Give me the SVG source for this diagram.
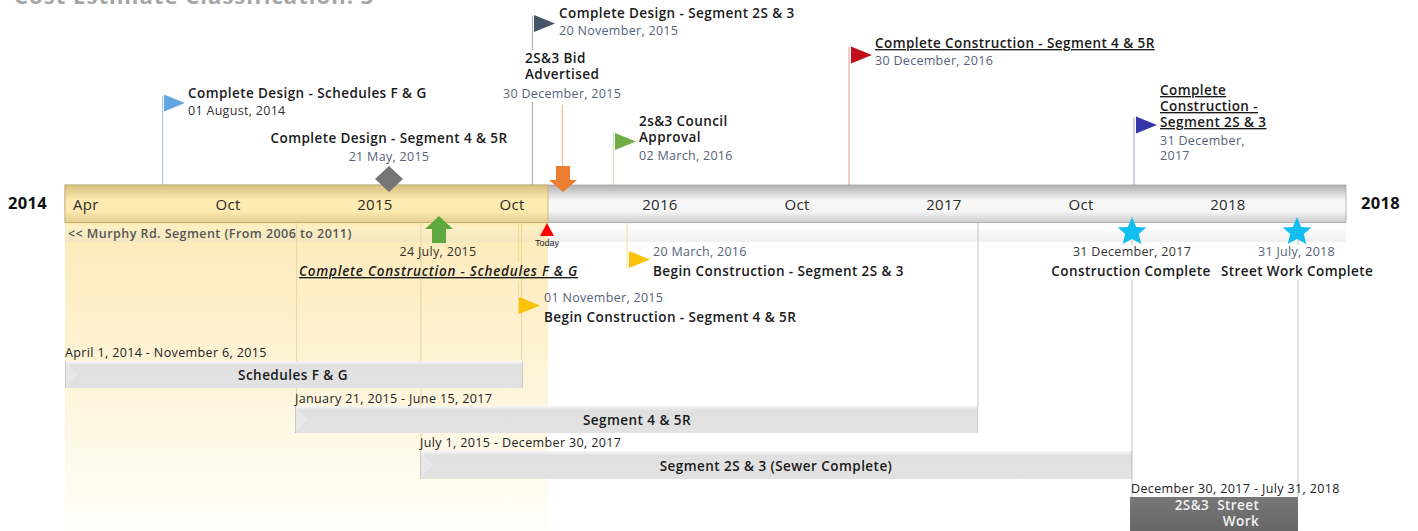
<svg xmlns="http://www.w3.org/2000/svg" width="1418" height="531" viewBox="0 0 1418 531">
<style>
text{font-family:"Open Sans","Noto Sans","DejaVu Sans",sans-serif;fill:#1a1a1a}
.t{font-size:13.5px;font-weight:600;letter-spacing:.42px}
.d{font-size:12.5px;fill:#56627a;letter-spacing:.3px}
.k{font-size:12.5px;fill:#333;letter-spacing:.3px}
.u{text-decoration:underline}
.s{font-size:15px;fill:#2a2a2a;letter-spacing:.3px}
.y{font-size:16.5px;font-weight:700;fill:#111;letter-spacing:.3px}
.r{font-size:12.5px;fill:#222;letter-spacing:.37px}
.b{font-size:13.5px;font-weight:600;text-anchor:middle;letter-spacing:.45px}
.c{text-anchor:middle}
line{stroke-width:1.2;fill:none}
.bev{fill:#f3f3f3}
.bed{fill:#c9c9c9}
</style>
<defs>
<linearGradient id="gold" x1="0" y1="0" x2="0" y2="1"><stop offset="0" stop-color="#fdeab8"/><stop offset="1" stop-color="#fffef9"/></linearGradient>
<linearGradient id="barGold" x1="0" y1="0" x2="0" y2="1"><stop offset="0" stop-color="#d8c180"/><stop offset=".4" stop-color="#fdeab0"/><stop offset=".7" stop-color="#fdeab0"/><stop offset="1" stop-color="#e4ce8e"/></linearGradient>
<linearGradient id="barGray" x1="0" y1="0" x2="0" y2="1"><stop offset="0" stop-color="#b0b0b0"/><stop offset=".4" stop-color="#f6f6f6"/><stop offset=".7" stop-color="#f6f6f6"/><stop offset="1" stop-color="#cccccc"/></linearGradient>
<linearGradient id="band" x1="0" y1="0" x2="0" y2="1"><stop offset="0" stop-color="#f4f4f4"/><stop offset=".2" stop-color="#ffffff"/><stop offset="1" stop-color="#f0f0f0"/></linearGradient>
<linearGradient id="bandG" x1="0" y1="0" x2="0" y2="1"><stop offset="0" stop-color="#fde9a8"/><stop offset=".25" stop-color="#fef0c4"/><stop offset="1" stop-color="#f4e6bf"/></linearGradient>
<linearGradient id="task" x1="0" y1="0" x2="0" y2="1"><stop offset="0" stop-color="#f7f7f7"/><stop offset=".16" stop-color="#e0e0e0"/><stop offset="1" stop-color="#e2e2e2"/></linearGradient>
<linearGradient id="dark" x1="0" y1="0" x2="0" y2="1"><stop offset="0" stop-color="#777"/><stop offset="1" stop-color="#666"/></linearGradient>
<polygon id="flag" points="0,-8.500 21,0 0,8.500"/>
<polygon id="star" points="0,-15 4.200,-5 14.300,-4.600 6.800,2 9.300,12 0,7 -9.300,12 -6.800,2 -14.300,-4.600 -4.200,-5"/>
</defs>

<g id="background">
<rect x="65" y="222" width="483" height="309" fill="url(#gold)"/>
<rect x="65" y="222" width="483" height="20" fill="url(#bandG)"/>
<rect x="548" y="222" width="798" height="20" fill="url(#band)"/>
</g>

<text x="14" y="4" style="font-size:22px;font-weight:700;fill:#a6a6a6;letter-spacing:1.05px">Cost Estimate Classification: 3</text>

<g id="connectors">
<line x1="162.500" y1="96" x2="162.500" y2="185" stroke="#a9c7e6"/>
<line x1="532.500" y1="16" x2="532.500" y2="50" stroke="#aab4c4"/>
<line x1="532.500" y1="102" x2="532.500" y2="185" stroke="#aab4c4"/>
<line x1="562.500" y1="105" x2="562.500" y2="168" stroke="#f6b98a"/>
<line x1="613.500" y1="133" x2="613.500" y2="185" stroke="#c9dfbc"/>
<line x1="849" y1="47" x2="849" y2="185" stroke="#eaa9a9"/>
<line x1="1134" y1="117" x2="1134" y2="185" stroke="#b0b3de"/>
<line x1="296.500" y1="222" x2="296.500" y2="406" stroke="#e8d9a8"/>
<line x1="421" y1="222" x2="421" y2="451" stroke="#e8d9a8"/>
<line x1="518.500" y1="222" x2="518.500" y2="262" stroke="#f6dc8c"/>
<line x1="521.500" y1="222" x2="521.500" y2="360" stroke="#e8d9a8"/>
<line x1="518.500" y1="281" x2="518.500" y2="314" stroke="#f6dc8c"/>
<line x1="627" y1="222" x2="627" y2="268" stroke="#fbe4a0"/>
<line x1="978" y1="222" x2="978" y2="406" stroke="#cfcfcf"/>
<line x1="1132" y1="240" x2="1132" y2="245" stroke="#cfcfcf"/>
<line x1="1132" y1="280" x2="1132" y2="497" stroke="#cfcfcf"/>
<line x1="1298" y1="240" x2="1298" y2="245" stroke="#cfcfcf"/>
<line x1="1298" y1="280" x2="1298" y2="497" stroke="#cfcfcf"/>
</g>

<g id="timeline">
<rect x="65" y="185" width="1281" height="37.500" fill="url(#barGray)" stroke="#a8a8a8" stroke-width=".8"/>
<rect x="65" y="185" width="483" height="37.500" fill="url(#barGold)" stroke="#c4ad6e" stroke-width=".8"/>
<text x="8" y="209" class="y">2014</text>
<text x="1361" y="209" class="y">2018</text>
<text x="73" y="210" class="s">Apr</text>
<text x="228" y="210" class="s c">Oct</text>
<text x="375" y="210" class="s c">2015</text>
<text x="512" y="210" class="s c">Oct</text>
<text x="660" y="210" class="s c">2016</text>
<text x="797" y="210" class="s c">Oct</text>
<text x="944" y="210" class="s c">2017</text>
<text x="1081" y="210" class="s c">Oct</text>
<text x="1228" y="210" class="s c">2018</text>
</g>

<text x="68" y="238" style="font-size:12.500px;font-weight:600;fill:#555;letter-spacing:.44px">&lt;&lt; Murphy Rd. Segment (From 2006 to 2011)</text>

<g id="m-design-fg">
<use href="#flag" x="164" y="103" fill="#62a6e2"/>
<text x="188" y="98" class="t">Complete Design - Schedules F &amp; G</text>
<text x="188" y="115" class="k">01 August, 2014</text>
</g>
<g id="m-design-45r">
<polygon points="389,166 403,179 389,192 375,179" fill="#757575"/>
<text x="389" y="143" class="t c">Complete Design - Segment 4 &amp; 5R</text>
<text x="389" y="161" class="d c">21 May, 2015</text>
</g>
<g id="m-design-2s3">
<use href="#flag" x="534" y="23.500" fill="#44546a"/>
<text x="559" y="18" class="t">Complete Design - Segment 2S &amp; 3</text>
<text x="559" y="35" class="d">20 November, 2015</text>
</g>
<g id="m-bid">
<polygon points="556,166 570,166 570,180 577,180 563,192 549,180 556,180" fill="#ed7d31"/>
<text x="525" y="63" class="t">2S&amp;3 Bid</text>
<text x="525" y="79" class="t">Advertised</text>
<text x="503" y="98" class="d">30 December, 2015</text>
</g>
<g id="m-council">
<use href="#flag" x="615" y="141.500" fill="#70ad47"/>
<text x="639" y="126" class="t">2s&amp;3 Council</text>
<text x="639" y="142" class="t">Approval</text>
<text x="639" y="160" class="d">02 March, 2016</text>
</g>
<g id="m-constr-45r">
<use href="#flag" x="851" y="55" fill="#c00f1a"/>
<text x="875" y="48" class="t u">Complete Construction - Segment 4 &amp; 5R</text>
<text x="875" y="65" class="d">30 December, 2016</text>
</g>
<g id="m-constr-2s3">
<use href="#flag" x="1136" y="125" fill="#3636a8"/>
<text x="1160" y="95" class="t u">Complete</text>
<text x="1160" y="111" class="t u">Construction -</text>
<text x="1160" y="127" class="t u">Segment 2S &amp; 3</text>
<text x="1160" y="145" class="d">31 December,</text>
<text x="1160" y="160" class="d">2017</text>
</g>
<g id="m-constr-fg">
<polygon points="439,216 453,229 446,229 446,243 432,243 432,229 425,229" fill="#5fa83f"/>
<text x="438" y="256" class="k c">24 July, 2015</text>
<text x="299" y="276" class="t u" style="font-style:italic;letter-spacing:.75px">Complete Construction - Schedules F &amp; G</text>
</g>
<g id="m-today">
<polygon points="547,223 554,236 540,236" fill="#ff0000"/>
<text x="547" y="246" class="c" style="font-size:9px;font-family:'Liberation Sans',sans-serif;fill:#222">Today</text>
</g>
<g id="m-begin-2s3">
<use href="#flag" x="629" y="259.500" fill="#fcc20a"/>
<text x="653" y="256" class="d">20 March, 2016</text>
<text x="653" y="276" class="t">Begin Construction - Segment 2S &amp; 3</text>
</g>
<g id="m-begin-45r">
<use href="#flag" x="519" y="305.500" fill="#fcc20a"/>
<text x="544" y="302" class="d">01 November, 2015</text>
<text x="544" y="322" class="t">Begin Construction - Segment 4 &amp; 5R</text>
</g>
<g id="m-complete">
<use href="#star" x="1132" y="232" fill="#12bdf0"/>
<text x="1132" y="256" class="k c">31 December, 2017</text>
<text x="1131" y="276" class="t c">Construction Complete</text>
</g>
<g id="m-street">
<use href="#star" x="1297" y="232" fill="#12bdf0"/>
<text x="1296.500" y="256" class="d c">31 July, 2018</text>
<text x="1297" y="276" class="t c">Street Work Complete</text>
</g>

<g id="task-fg">
<text x="65" y="357" class="r">April 1, 2014 - November 6, 2015</text>
<rect x="65" y="361" width="457.500" height="27" fill="url(#task)"/>
<polygon class="bed" points="65,361 66,361 66,388 65,388"/>
<polygon class="bed" points="522,361 523,361 523,388 522,388"/>
<polygon class="bev" points="66,362 78,374 66,386" opacity=".4"/>
<text x="293" y="380" class="b">Schedules F &amp; G</text>
</g>
<g id="task-45r">
<text x="295" y="403" class="r">January 21, 2015 - June 15, 2017</text>
<rect x="295" y="406" width="683" height="27" fill="url(#task)"/>
<polygon class="bed" points="295,406 296,406 296,433 295,433"/>
<polygon class="bed" points="977,406 978,406 978,433 977,433"/>
<polygon class="bev" points="296,407 308,419 296,431" opacity=".4"/>
<text x="637" y="425" class="b">Segment 4 &amp; 5R</text>
</g>
<g id="task-2s3">
<text x="420" y="447" class="r">July 1, 2015 - December 30, 2017</text>
<rect x="420" y="451" width="712" height="28" fill="url(#task)"/>
<polygon class="bed" points="420,451 421,451 421,479 420,479"/>
<polygon class="bed" points="1131,451 1132,451 1132,479 1131,479"/>
<polygon class="bev" points="421,452 433,465 421,477" opacity=".4"/>
<text x="776" y="471" class="b">Segment 2S &amp; 3 (Sewer Complete)</text>
</g>
<g id="task-street">
<text x="1131" y="493" class="r">December 30, 2017 - July 31, 2018</text>
<rect x="1130" y="497" width="168" height="34" fill="url(#dark)"/>
<text x="1217" y="510" class="b" style="fill:#f2f2f2">2S&amp;3&#160; Street</text>
<text x="1241" y="526" class="b" style="fill:#f2f2f2">Work</text>
</g>
</svg>
